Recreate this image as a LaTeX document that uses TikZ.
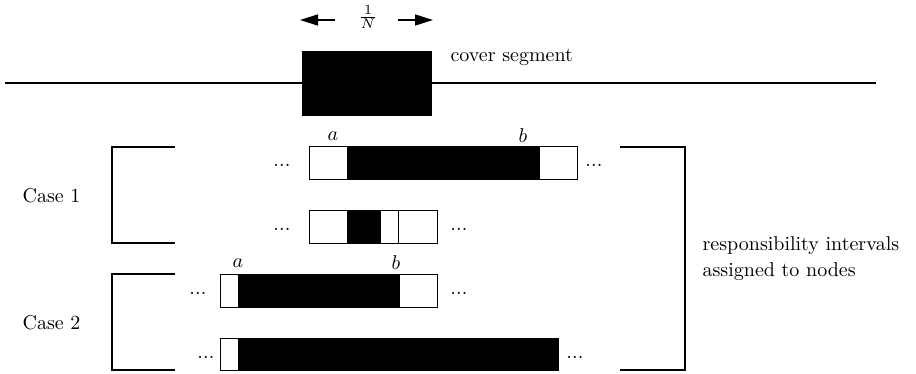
\documentclass[tikz,border=0pt]{standalone}
\usetikzlibrary{arrows.meta}
\newcommand{\threedots}{.\kern0.1pt.\kern0.1pt.}
\begin{document}
\begin{tikzpicture}[x=0.5pt,y=-0.5pt,line width=0.6pt,
  cell/.style={draw,fill=white,line width=0.5pt},
  seg/.style={draw,fill=black,line width=0.5pt},
  brace/.style={line width=0.6pt},
  lbl/.style={inner sep=0pt,anchor=west},
  dotsn/.style={inner sep=0pt,anchor=base},
  ptlabel/.style={inner sep=0pt},
  widtharrow/.style={-{Triangle[length=9pt,width=5.5pt]},line width=0.8pt}]
\useasboundingbox (0,0) rectangle (916,374);

% the line and the cover segment on it
\draw (5,83) -- (876,83);
\fill (302,51) rectangle (432,116);
\node[lbl] (cover) at (450,57) {cover segment};

% width 1/N of the cover segment
\node[inner sep=0pt] (width) at (368,17) {$\frac{1}{N}$};
\coordinate (lt) at (335,20);
\coordinate (lh) at (300,20);
\coordinate (rt) at (398,20);
\coordinate (rh) at (433,20);
\draw[widtharrow] (lt) -- (lh);
\draw[widtharrow] (rt) -- (rh);

% Case 1, first row
\draw[cell] (309,147) rectangle (347,180);
\draw[seg]  (347,147) rectangle (539,180);
\draw[cell] (539,147) rectangle (577,180);
\node[dotsn] (d11l) at (282,167) {\threedots};
\node[dotsn] (d11r) at (594,167) {\threedots};
\node[ptlabel] (a1) at (333,136) {$a$};
\node[ptlabel] (b1) at (523,136) {$b$};

% Case 1, second row
\draw[cell] (309,210) rectangle (347,243);
\draw[seg]  (347,210) rectangle (380,243);
\draw[cell] (380,210) rectangle (398,243);
\draw[cell] (398,210) rectangle (437,243);
\node[dotsn] (d12l) at (282,230) {\threedots};
\node[dotsn] (d12r) at (459,230) {\threedots};

% Case 2, first row
\draw[cell] (220,274) rectangle (238,307);
\draw[seg]  (238,274) rectangle (399,307);
\draw[cell] (399,274) rectangle (437,307);
\node[dotsn] (d21l) at (198,294) {\threedots};
\node[dotsn] (d21r) at (459,294) {\threedots};
\node[ptlabel] (a2) at (238,263) {$a$};
\node[ptlabel] (b2) at (396,263) {$b$};

% Case 2, second row
\draw[cell] (220,338) rectangle (238,370);
\draw[seg]  (238,338) rectangle (558,370);
\node[dotsn] (d22l) at (206,358) {\threedots};
\node[dotsn] (d22r) at (575,358) {\threedots};

% brackets
\draw[brace] (175,147) -- (112,147) -- (112,243) -- (175,243);
\draw[brace] (175,274) -- (112,274) -- (112,370) -- (175,370);
\draw[brace] (620,147) -- (685,147) -- (685,370) -- (620,370);

\node[lbl] (case1) at (22,196) {Case 1};
\node[lbl] (case2) at (22,323) {Case 2};
\node[lbl] (resp1) at (702,246) {responsibility intervals};
\node[lbl] (resp2) at (702,272) {assigned to nodes};
\end{tikzpicture}
\end{document}
